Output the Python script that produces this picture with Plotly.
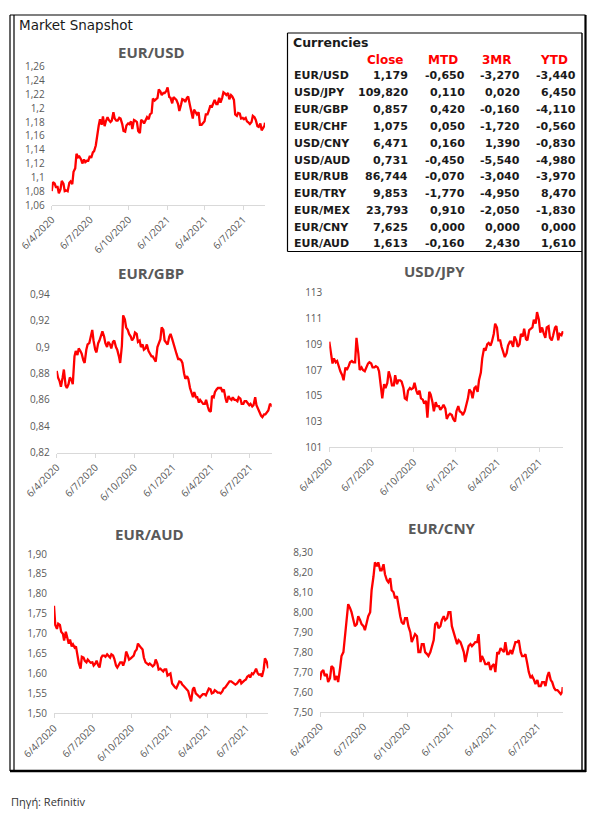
import plotly.graph_objects as go
import pandas as pd

W, H = 600, 813

# ---------------- data ----------------
# observation dates: Mondays and Thursdays, plus the final Friday
mondays = pd.date_range("2020-04-06", "2021-08-23", freq="7D")
dates = []
for m in mondays:
    dates.append(m.strftime("%Y-%m-%d"))
    dates.append((m + pd.Timedelta(days=3)).strftime("%Y-%m-%d"))
dates.append("2021-08-27")

eur_usd = [
    1.080, 1.093, 1.091, 1.086, 1.086, 1.077, 1.083, 1.095, 1.091, 1.080,
    1.081, 1.080, 1.092, 1.094, 1.090, 1.108, 1.113, 1.134, 1.129, 1.130,
    1.126, 1.120, 1.126, 1.122, 1.124, 1.124, 1.131, 1.128, 1.136, 1.138,
    1.146, 1.160, 1.175, 1.184, 1.176, 1.188, 1.174, 1.181, 1.187, 1.183,
    1.180, 1.182, 1.194, 1.185, 1.182, 1.182, 1.186, 1.185, 1.177, 1.167,
    1.166, 1.175, 1.178, 1.177, 1.181, 1.170, 1.183, 1.182, 1.180, 1.167,
    1.164, 1.183, 1.181, 1.178, 1.185, 1.187, 1.184, 1.191, 1.193, 1.214,
    1.211, 1.213, 1.215, 1.227, 1.224, 1.219, 1.222, 1.222, 1.225, 1.230,
    1.216, 1.215, 1.207, 1.216, 1.214, 1.212, 1.206, 1.196, 1.205, 1.213,
    1.212, 1.209, 1.215, 1.217, 1.205, 1.196, 1.185, 1.198, 1.193, 1.191,
    1.194, 1.176, 1.176, 1.178, 1.181, 1.191, 1.191, 1.196, 1.204, 1.201,
    1.207, 1.212, 1.206, 1.206, 1.215, 1.208, 1.215, 1.223, 1.221, 1.219,
    1.222, 1.213, 1.219, 1.217, 1.212, 1.191, 1.189, 1.193, 1.192, 1.185,
    1.186, 1.184, 1.186, 1.181, 1.179, 1.177, 1.180, 1.189, 1.187, 1.183,
    1.174, 1.173, 1.178, 1.168, 1.172, 1.175, 1.179]

eur_gbp = [
    0.882, 0.877, 0.874, 0.870, 0.877, 0.883, 0.871, 0.869, 0.872, 0.877,
    0.875, 0.872, 0.893, 0.897, 0.894, 0.899, 0.897, 0.895, 0.890, 0.888,
    0.898, 0.902, 0.903, 0.907, 0.913, 0.905, 0.898, 0.896, 0.903, 0.905,
    0.910, 0.912, 0.908, 0.903, 0.900, 0.904, 0.902, 0.899, 0.904, 0.905,
    0.900, 0.898, 0.893, 0.888, 0.901, 0.924, 0.921, 0.915, 0.913, 0.910,
    0.908, 0.905, 0.907, 0.911, 0.910, 0.904, 0.905, 0.900, 0.902, 0.898,
    0.899, 0.902, 0.897, 0.895, 0.893, 0.893, 0.890, 0.889, 0.900, 0.903,
    0.906, 0.915, 0.913, 0.905, 0.903, 0.902, 0.908, 0.910, 0.906, 0.902,
    0.898, 0.895, 0.891, 0.891, 0.890, 0.888, 0.880, 0.876, 0.878, 0.876,
    0.869, 0.866, 0.862, 0.866, 0.862, 0.862, 0.858, 0.860, 0.858, 0.857,
    0.857, 0.860, 0.855, 0.852, 0.851, 0.863, 0.862, 0.866, 0.868, 0.869,
    0.869, 0.869, 0.866, 0.868, 0.861, 0.858, 0.863, 0.861, 0.860, 0.862,
    0.860, 0.860, 0.859, 0.862, 0.861, 0.857, 0.857, 0.859, 0.859, 0.858,
    0.856, 0.857, 0.855, 0.856, 0.862, 0.856, 0.853, 0.851, 0.848, 0.847,
    0.849, 0.849, 0.851, 0.852, 0.857, 0.856, 0.857]

usd_jpy = [
    109.2, 108.5, 107.5, 107.9, 107.6, 107.7, 107.2, 106.9, 106.6, 106.2,
    107.2, 107.0, 107.3, 107.6, 107.7, 107.6, 107.6, 109.5, 108.3, 107.0,
    107.2, 107.0, 106.9, 107.2, 107.5, 107.6, 107.5, 107.2, 107.2, 107.3,
    107.2, 106.9, 105.4, 104.8, 105.9, 105.6, 106.0, 106.9, 106.4, 105.8,
    105.8, 106.6, 105.9, 106.2, 106.2, 106.1, 105.6, 104.8, 104.7, 105.4,
    105.6, 105.5, 105.6, 106.0, 105.4, 105.1, 105.4, 104.8, 104.7, 104.4,
    104.6, 103.3, 105.3, 105.1, 104.5, 103.8, 104.5, 104.2, 104.2, 103.9,
    104.1, 104.3, 104.0, 103.2, 103.5, 103.6, 103.5, 103.2, 103.0, 103.8,
    104.2, 103.8, 103.7, 103.5, 103.8, 104.2, 104.8, 105.5, 105.3, 104.8,
    105.6, 105.7, 105.3, 106.2, 106.8, 107.9, 108.7, 108.5, 109.0, 109.1,
    108.9, 109.2, 109.8, 110.6, 110.3, 109.3, 109.3, 108.8, 108.4, 108.0,
    108.3, 108.9, 109.2, 109.2, 108.8, 109.6, 109.3, 108.8, 109.0, 109.8,
    109.6, 110.2, 109.4, 109.3, 110.1, 110.2, 110.3, 110.9, 110.6, 111.5,
    110.9, 109.9, 110.3, 109.9, 109.5, 110.3, 110.4, 109.5, 109.3, 109.7,
    110.3, 110.4, 109.3, 109.8, 109.7, 110.0, 109.8]

eur_aud = [
    1.770, 1.722, 1.712, 1.725, 1.722, 1.705, 1.700, 1.683, 1.705, 1.690,
    1.675, 1.685, 1.668, 1.673, 1.665, 1.668, 1.640, 1.625, 1.612, 1.642,
    1.640, 1.632, 1.628, 1.635, 1.630, 1.627, 1.628, 1.620, 1.625, 1.632,
    1.620, 1.615, 1.640, 1.645, 1.645, 1.642, 1.648, 1.645, 1.640, 1.648,
    1.645, 1.637, 1.620, 1.615, 1.625, 1.628, 1.628, 1.620, 1.632, 1.655,
    1.645, 1.635, 1.638, 1.642, 1.645, 1.655, 1.660, 1.675, 1.668, 1.665,
    1.660, 1.640, 1.628, 1.625, 1.622, 1.625, 1.620, 1.618, 1.622, 1.635,
    1.625, 1.610, 1.612, 1.608, 1.605, 1.610, 1.610, 1.595, 1.598, 1.600,
    1.575, 1.570, 1.565, 1.563, 1.575, 1.580, 1.578, 1.572, 1.568, 1.565,
    1.560, 1.556, 1.540, 1.530, 1.560, 1.565, 1.550, 1.547, 1.542, 1.540,
    1.545, 1.548, 1.548, 1.545, 1.555, 1.562, 1.560, 1.550, 1.552, 1.558,
    1.555, 1.552, 1.552, 1.550, 1.555, 1.562, 1.565, 1.570, 1.575, 1.580,
    1.580, 1.578, 1.575, 1.572, 1.575, 1.580, 1.585, 1.575, 1.580, 1.582,
    1.585, 1.592, 1.595, 1.590, 1.600, 1.598, 1.605, 1.612, 1.600, 1.597,
    1.598, 1.592, 1.610, 1.638, 1.630, 1.620, 1.613]

eur_cny = [
    7.66, 7.70, 7.71, 7.68, 7.69, 7.65, 7.67, 7.73, 7.72, 7.66,
    7.68, 7.65, 7.72, 7.78, 7.80, 7.88, 7.95, 8.04, 8.02, 8.00,
    7.96, 7.93, 7.94, 7.98, 7.96, 7.94, 7.93, 7.91, 7.95, 7.98,
    8.00, 8.11, 8.18, 8.25, 8.23, 8.25, 8.21, 8.21, 8.24, 8.19,
    8.16, 8.15, 8.17, 8.11, 8.10, 8.07, 8.08, 8.03, 7.98, 7.95,
    7.94, 7.97, 7.97, 7.93, 7.90, 7.85, 7.87, 7.89, 7.88, 7.80,
    7.80, 7.84, 7.84, 7.80, 7.79, 7.78, 7.80, 7.83, 7.86, 7.94,
    7.95, 7.92, 7.93, 7.96, 7.98, 7.96, 7.97, 8.00, 8.00, 7.93,
    7.90, 7.87, 7.84, 7.86, 7.85, 7.83, 7.80, 7.75, 7.79, 7.83,
    7.84, 7.83, 7.84, 7.85, 7.85, 7.89, 7.75, 7.78, 7.76, 7.74,
    7.74, 7.75, 7.71, 7.73, 7.74, 7.70, 7.80, 7.79, 7.82, 7.81,
    7.80, 7.85, 7.79, 7.79, 7.81, 7.79, 7.82, 7.85, 7.85, 7.86,
    7.80, 7.78, 7.78, 7.79, 7.74, 7.70, 7.67, 7.68, 7.66, 7.64,
    7.66, 7.63, 7.63, 7.65, 7.65, 7.63, 7.68, 7.70, 7.66, 7.65,
    7.62, 7.61, 7.61, 7.60, 7.59, 7.60, 7.625]

x_tickvals = ["2020-04-06", "2020-07-06", "2020-10-06", "2021-01-06", "2021-04-06", "2021-07-06"]
x_ticktext = ["6/4/2020", "6/7/2020", "6/10/2020", "6/1/2021", "6/4/2021", "6/7/2021"]

usd_ticks = [1.06, 1.08, 1.10, 1.12, 1.14, 1.16, 1.18, 1.20, 1.22, 1.24, 1.26]
usd_text = ["1,06", "1,08", "1,1", "1,12", "1,14", "1,16", "1,18", "1,2", "1,22", "1,24", "1,26"]
gbp_ticks = [0.82, 0.84, 0.86, 0.88, 0.90, 0.92, 0.94]
gbp_text = ["0,82", "0,84", "0,86", "0,88", "0,9", "0,92", "0,94"]
jpy_ticks = [101, 103, 105, 107, 109, 111, 113]
jpy_text = ["101", "103", "105", "107", "109", "111", "113"]
aud_ticks = [1.50, 1.55, 1.60, 1.65, 1.70, 1.75, 1.80, 1.85, 1.90]
aud_text = ["1,50", "1,55", "1,60", "1,65", "1,70", "1,75", "1,80", "1,85", "1,90"]
cny_ticks = [7.50, 7.60, 7.70, 7.80, 7.90, 8.00, 8.10, 8.20, 8.30]
cny_text = ["7,50", "7,60", "7,70", "7,80", "7,90", "8,00", "8,10", "8,20", "8,30"]

table_pairs = ["EUR/USD", "USD/JPY", "EUR/GBP", "EUR/CHF", "USD/CNY", "USD/AUD",
               "EUR/RUB", "EUR/TRY", "EUR/MEX", "EUR/CNY", "EUR/AUD"]
table_close = ["1,179", "109,820", "0,857", "1,075", "6,471", "0,731",
               "86,744", "9,853", "23,793", "7,625", "1,613"]
table_mtd = ["-0,650", "0,110", "0,420", "0,050", "0,160", "-0,450",
             "-0,070", "-1,770", "0,910", "0,000", "-0,160"]
table_3mr = ["-3,270", "0,020", "-0,160", "-1,720", "1,390", "-5,540",
             "-3,040", "-4,950", "-2,050", "0,000", "2,430"]
table_ytd = ["-3,440", "6,450", "-4,110", "-0,560", "-0,830", "-4,980",
             "-3,970", "8,470", "-1,830", "0,000", "1,610"]
table_headers = ["Close", "MTD", "3MR", "YTD"]

# ---------------- helpers ----------------
def fx(px):
    return px / W

def fy(py):
    return 1 - py / H

GRAY = "#595959"
TICKFONT = dict(family="Open Sans", size=10, color=GRAY)

panels = [
    ("EUR/USD", eur_usd, (51.7, 265.0), (205.0, 66.7), (1.06, 1.26), usd_ticks, usd_text, (151, 52)),
    ("EUR/GBP", eur_gbp, (56.7, 271.7), (452.7, 294.3), (0.82, 0.94), gbp_ticks, gbp_text, (151, 273)),
    ("USD/JPY", usd_jpy, (329.3, 563.3), (447.3, 292.7), (101, 113), jpy_ticks, jpy_text, (434, 271)),
    ("EUR/AUD", eur_aud, (54.0, 268.3), (713.3, 554.0), (1.50, 1.90), aud_ticks, aud_text, (149, 534)),
    ("EUR/CNY", eur_cny, (320.0, 562.7), (712.0, 552.3), (7.50, 8.30), cny_ticks, cny_text, (442, 528)),
]

fig = go.Figure()
annotations = []
layout_axes = {}

for i, (name, vals, xd, yd, yr, tv, tt, tpos) in enumerate(panels):
    n = "" if i == 0 else str(i + 1)
    xs = dates[:len(vals)]
    fig.add_trace(go.Scatter(
        x=xs, y=vals, mode="lines",
        line=dict(color="#ff0000", width=2.3),
        xaxis="x" + n, yaxis="y" + n, showlegend=False, hoverinfo="skip"))
    layout_axes["xaxis" + n] = dict(
        domain=[fx(xd[0]), fx(xd[1])], anchor="y" + n, type="date",
        range=["2020-04-06", "2021-08-27"], automargin=False,
        tickvals=x_tickvals, ticktext=x_ticktext, tickangle=-45,
        tickfont=TICKFONT, showgrid=False, zeroline=False,
        showline=True, linecolor="#d9d9d9", linewidth=1,
        ticks="outside", ticklen=4, tickcolor="#d9d9d9", fixedrange=True)
    layout_axes["yaxis" + n] = dict(
        domain=[fy(yd[0]), fy(yd[1])], anchor="x" + n, range=list(yr), automargin=False,
        tickvals=tv, ticktext=tt, tickfont=TICKFONT,
        showgrid=False, zeroline=False, showline=False, ticks="",
        ticklabelstandoff=6, fixedrange=True)
    annotations.append(dict(
        text="<b>" + name + "</b>", x=fx(tpos[0]), y=fy(tpos[1]),
        xref="paper", yref="paper", xanchor="center", yanchor="middle",
        showarrow=False, font=dict(family="Open Sans", size=15, color=GRAY)))

annotations.append(dict(text="Market Snapshot", x=fx(17), y=fy(25), xref="paper", yref="paper",
                        xanchor="left", yanchor="middle", showarrow=False,
                        font=dict(family="DejaVu Sans", size=13.5, color="#1a1a1a")))
annotations.append(dict(text="Πηγή: Refinitiv", x=fx(9), y=fy(801), xref="paper", yref="paper",
                        xanchor="left", yanchor="middle", showarrow=False,
                        font=dict(family="Open Sans", size=11, color="#333333")))

TFONT = dict(family="DejaVu Sans", size=11, color="#1a1a1a")
HFONT = dict(family="DejaVu Sans", size=12, color="#ff0000")
annotations.append(dict(text="<b>Currencies</b>", x=fx(291), y=fy(43), xref="paper", yref="paper",
                        xanchor="left", yanchor="middle", showarrow=False,
                        font=dict(family="DejaVu Sans", size=12.5, color="#1a1a1a")))
header_x = [385, 443, 497, 554]
for hx, h in zip(header_x, table_headers):
    annotations.append(dict(text="<b>" + h + "</b>", x=fx(hx), y=fy(59.5), xref="paper", yref="paper",
                            xanchor="center", yanchor="middle", showarrow=False, font=HFONT))
col_right = [409.5, 466.5, 522, 577.5]
for r in range(len(table_pairs)):
    ry = 76 + r * 16.8
    annotations.append(dict(text="<b>" + table_pairs[r] + "</b>", x=fx(291.5), y=fy(ry),
                            xref="paper", yref="paper", xanchor="left", yanchor="middle",
                            showarrow=False, font=TFONT))
    for cx, col in zip(col_right, [table_close, table_mtd, table_3mr, table_ytd]):
        annotations.append(dict(text="<b>" + col[r] + "</b>", x=fx(cx), y=fy(ry),
                                xref="paper", yref="paper", xanchor="right", yanchor="middle",
                                showarrow=False, font=TFONT))

def line(x0, y0, x1, y1, w=1, c="#000000"):
    return dict(type="line", xref="paper", yref="paper", x0=fx(x0), y0=fy(y0), x1=fx(x1), y1=fy(y1),
                line=dict(color=c, width=w))

shapes = [
    line(10, 15, 585.5, 15, 1.2),
    line(10, 15, 10, 771, 1.2),
    line(14, 15, 14, 771, 1.2),
    line(585.5, 15, 585.5, 772, 2.2),
    line(582, 33, 582, 771, 1.4),
    line(10, 771, 586, 771, 2.6),
    line(287.5, 33, 582, 33, 1.2),
    line(287.5, 33, 287.5, 251.5, 1.2),
    line(287.5, 251.5, 582, 251.5, 1.2),
]

fig.update_layout(
    width=W, height=H, autosize=False,
    margin=dict(l=0, r=0, t=0, b=0, pad=0, autoexpand=False),
    paper_bgcolor="white", plot_bgcolor="white",
    annotations=annotations, shapes=shapes,
    **layout_axes)

fig.write_html("out.html", config={"displayModeBar": False, "staticPlot": True},
               post_script="document.body.style.margin='0';")
